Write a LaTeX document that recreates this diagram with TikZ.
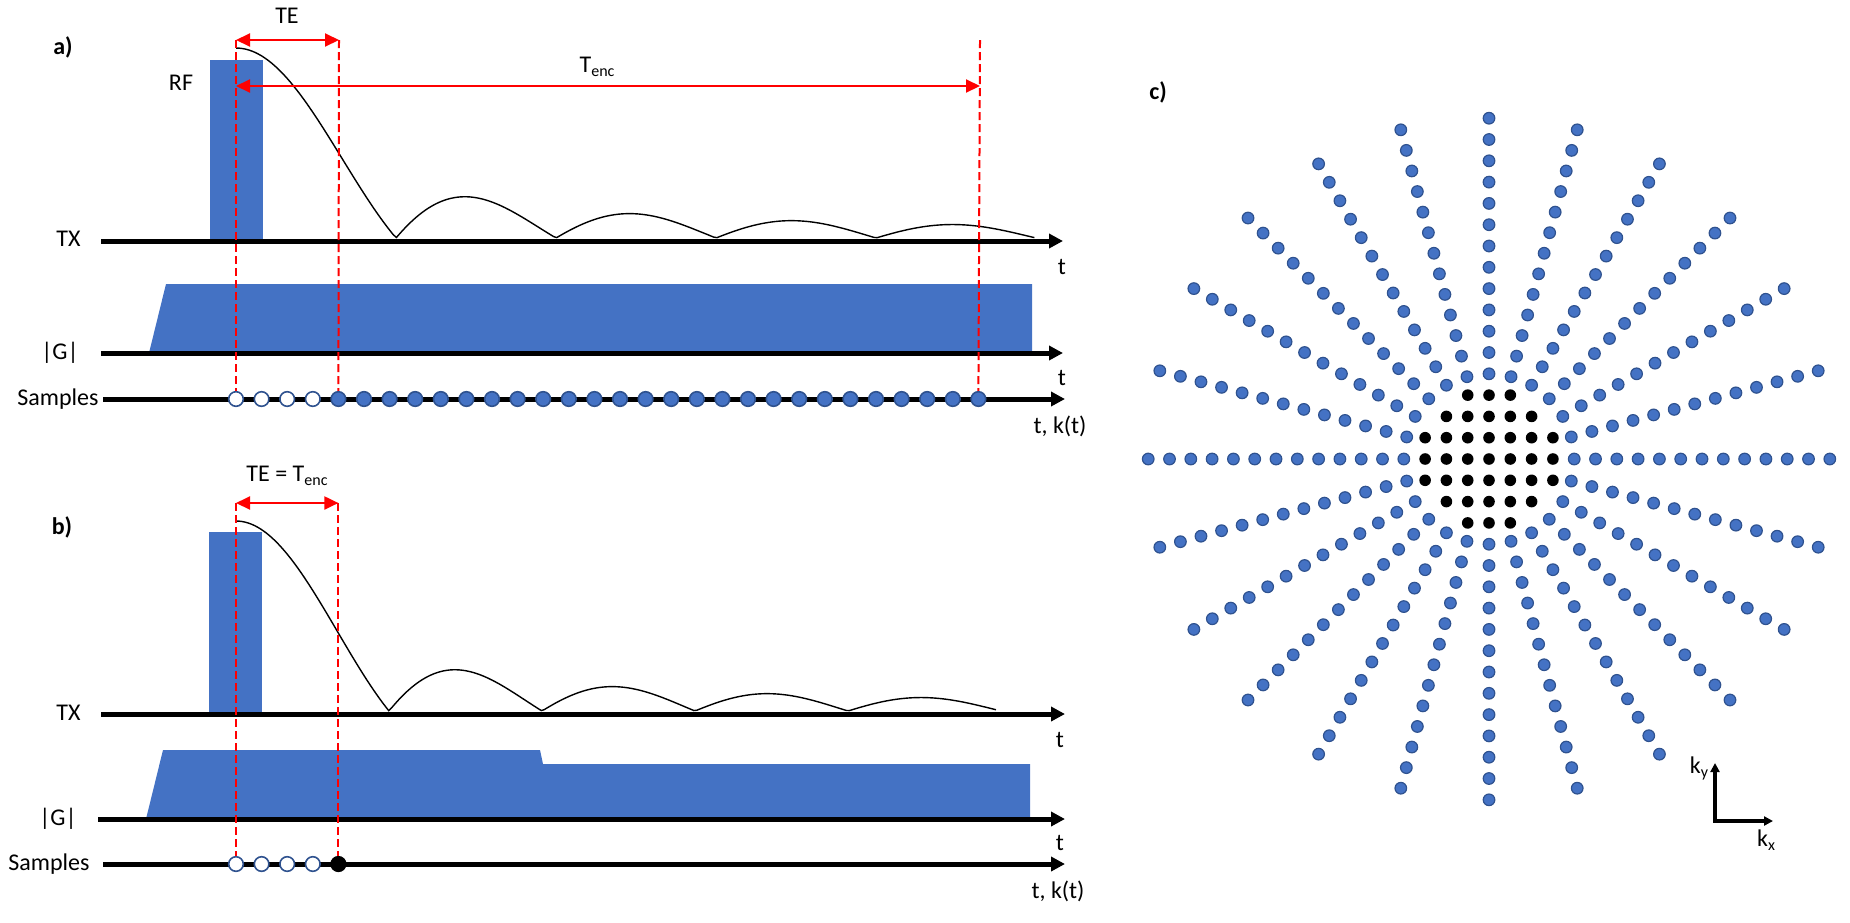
\documentclass[tikz,border=0pt]{standalone}
\usepackage{fontspec}
\setmainfont{Carlito}
\usetikzlibrary{arrows.meta}
\definecolor{rfblue}{HTML}{4472C4}
\definecolor{dotedge}{HTML}{2F528F}
\newcommand{\lowtxt}[1]{\raisebox{-0.35ex}{\fontsize{8}{9}\selectfont #1}}

\begin{document}
\begin{tikzpicture}[x=0.5pt,y=-0.5pt,
    lbl/.style={font=\fontsize{12}{14}\selectfont,inner sep=0pt},
    panel/.style={font=\fontsize{12}{14}\selectfont\bfseries,inner sep=0pt},
    timeaxis/.style={line width=2.5pt,-{Triangle[length=7pt,width=7pt]}},
    pulse/.style={fill=rfblue},
    sincline/.style={line width=0.7pt},
    marker/.style={red,line width=1pt,dash pattern=on 4pt off 2pt},
    span/.style={red,line width=1pt,{Triangle[length=7pt,width=6.5pt]}-{Triangle[length=7pt,width=6.5pt]}},
    smp/.style={circle,draw=dotedge,line width=0.8pt,minimum size=7.3pt,inner sep=0pt},
    opensmp/.style={smp,fill=white},
    fullsmp/.style={smp,fill=rfblue},
    kdot/.style={fill=rfblue,draw=dotedge,line width=0.6pt},
    kaxis/.style={line width=2pt,{Triangle[length=4.5pt,width=4.5pt]}-{Triangle[length=4.5pt,width=4.5pt]}}]
\useasboundingbox (0,0) rectangle (1850,922);

\node[panel] (pa) at (63,47) {a)};
\node[lbl] (rf) at (181,83) {RF};
\node[lbl] (tea) at (287,16) {TE};
\node[lbl] (tenca) at (597,67) {T\lowtxt{enc}};
\node[lbl,anchor=east] (txa) at (81,239) {TX};
\node[lbl,anchor=east] (ga) at (79,353) {|G|};
\node[lbl,anchor=east] (sa) at (99,399) {Samples};
\node[lbl] (txta) at (1062,267) {t};
\node[lbl] (gta) at (1062,378) {t};
\node[lbl] (sta) at (1060,426) {t, k(t)};
\fill[pulse] (210,60) rectangle (263,239);
\fill[pulse] (149,353) -- (166,284) -- (1032,284) -- (1032,353) -- cycle;
\draw[sincline] plot[domain=0.001:4.99,samples=250] ({236+160*\x},{238-190*abs(sin(180*\x)/(pi*\x))});
\coordinate (txa0) at (101,241); \coordinate (txa1) at (1063,241);
\coordinate (ga0) at (101,353); \coordinate (ga1) at (1063,353);
\coordinate (sa0) at (103,399); \coordinate (sa1) at (1065,399);
\draw[timeaxis] (txa0) -- (txa1);
\draw[timeaxis] (ga0) -- (ga1);
\draw[timeaxis] (sa0) -- (sa1);
\foreach \i in {0,...,3} \node[opensmp] (da\i) at ({236+25.6*\i},399) {};
\foreach \i in {4,...,29} \node[fullsmp] (da\i) at ({236+25.6*\i},399) {};
\coordinate (ma1) at (236,40); \coordinate (ma2) at (339,40); \coordinate (ma3) at (980,40);
\coordinate (ea1) at (236,86); \coordinate (ea2) at (980,86);
\draw[marker] (ma1) -- (da0.north);
\draw[marker] (ma2) -- (da4.north);
\draw[marker] (ma3) -- (da29.north);
\draw[span] (ma1) -- (ma2);
\draw[span] (ea1) -- (ea2);

\node[panel] (pb) at (62,527) {b)};
\node[lbl] (teb) at (287,476) {TE = T\lowtxt{enc}};
\node[lbl,anchor=east] (txb) at (81,713) {TX};
\node[lbl,anchor=east] (gb) at (77,819) {|G|};
\node[lbl,anchor=east] (sb) at (90,864) {Samples};
\node[lbl] (txtb) at (1060,740) {t};
\node[lbl] (gtb) at (1060,843) {t};
\node[lbl] (stb) at (1058,891) {t, k(t)};
\fill[pulse] (209,532) rectangle (262,712);
\fill[pulse] (146,819) -- (163,750) -- (540,750) -- (543,764) -- (1030,764) -- (1030,819) -- cycle;
\draw[sincline] plot[domain=0.001:4.97,samples=250] ({236+153*\x},{711-190*abs(sin(180*\x)/(pi*\x))});
\coordinate (txb0) at (101,714); \coordinate (txb1) at (1065,714);
\coordinate (gb0) at (98,819); \coordinate (gb1) at (1065,819);
\coordinate (sb0) at (103,864); \coordinate (sb1) at (1065,864);
\draw[timeaxis] (txb0) -- (txb1);
\draw[timeaxis] (gb0) -- (gb1);
\draw[timeaxis] (sb0) -- (sb1);
\foreach \i in {0,...,3} \node[opensmp] (db\i) at ({236+25.6*\i},864) {};
\node[smp,draw=black,fill=black] (db4) at (338.4,864) {};
\coordinate (mb1) at (236,503); \coordinate (mb2) at (338.4,503);
\draw[marker] (mb1) -- (db0.north);
\draw[marker] (mb2) -- (db4.north);
\draw[span] (mb1) -- (mb2);

\node[panel] (pc) at (1158,92) {c)};
\foreach \ang in {0,15,...,345}
  \foreach \r in {4,...,16}
    \filldraw[kdot] ({1489+21.3*\r*cos(\ang)},{459-21.3*\r*sin(\ang)}) circle (2.9pt);
\foreach \row/\hw in {-3/1,-2/2,-1/3,0/3,1/3,2/2,3/1}
  \foreach \col in {-\hw,...,\hw}
    \fill ({1489+21.3*\col},{459+21.3*\row}) circle (2.9pt);
\coordinate (k0) at (1715,821); \coordinate (kx) at (1773,821); \coordinate (ky) at (1715,763);
\draw[kaxis] (ky) -- (k0) -- (kx);
\node[lbl] (kyl) at (1699,768) {k\lowtxt{y}};
\node[lbl] (kxl) at (1766,840) {k\lowtxt{x}};
\end{tikzpicture}
\end{document}
